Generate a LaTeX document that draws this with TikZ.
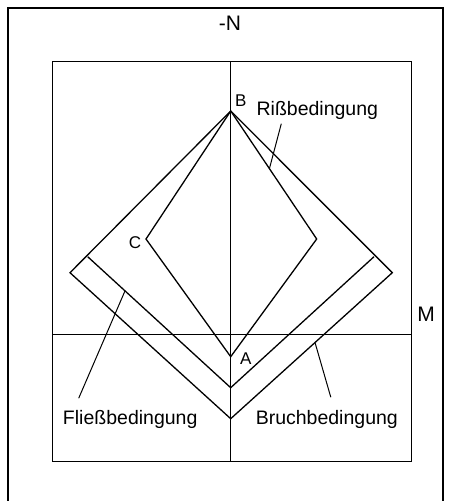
\documentclass[tikz,border=0pt]{standalone}
\usepackage{fontspec}
\setmainfont{Liberation Sans}

\begin{document}
\begin{tikzpicture}[x=1pt,y=-1pt,line width=1.3pt,line join=miter,
		lbl/.style={font=\fontsize{19.5}{19.5}\selectfont,anchor=base,inner sep=0pt},
		ax/.style={font=\fontsize{21}{21}\selectfont,anchor=base,inner sep=0pt},
		pnt/.style={font=\fontsize{17}{17}\selectfont,anchor=base,inner sep=0pt}]
		\useasboundingbox (0,0) rectangle (448,501);
		\draw (8,501) |- (443,8) -- (443,501);
		% axes
		\draw (52.3,61.3) rectangle (411.3,461.7);
		\draw (230.7,61.3) -- (230.7,461.7);
		\draw (52.3,334.3) -- (411.3,334.3);
		% corners
		\coordinate (B) at (230.7,111);
		\coordinate (A) at (230.7,356.7);
		\coordinate (C) at (146,239);
		\coordinate (Cr) at (316.7,239);
		\coordinate (Fl) at (87.7,256.7);
		\coordinate (Fb) at (230.7,387.7);
		\coordinate (Fr) at (374,256.7);
		\coordinate (Bl) at (70,272.7);
		\coordinate (Bb) at (230.7,418.7);
		\coordinate (Br) at (392.3,272.7);
		% curves
		\draw (B) -- (Bl) -- (Bb) -- (Br) -- cycle;
		\draw (Fl) -- (Fb) -- (Fr);
		\draw (B) -- (C) -- (A) -- (Cr) -- cycle;
		% labels
		\node[ax] (nn) at (230,30.7) {-N};
		\node[ax] (mm) at (426,321.7) {M};
		\node[pnt] (lb) at (240.7,106.7) {B};
		\node[pnt] (lc) at (135,248.3) {C};
		\node[pnt] (la) at (245.7,364) {A};
		\node[lbl] (riss) at (317.3,115) {Rißbedingung};
		\node[lbl] (fliess) at (130.2,424) {Fließbedingung};
		\node[lbl] (bruch) at (326.8,424) {Bruchbedingung};
		\coordinate (rissend) at (269.5,168.3);
		\coordinate (fliessend) at (125,290.9);
		\coordinate (bruchend) at (315,342.5);
		\draw[line width=1pt] ([xshift=-36pt,yshift=-4pt]riss.south) -- (rissend);
		\draw[line width=1pt] ([xshift=-51.5pt,yshift=11pt]fliess.north) -- (fliessend);
		\draw[line width=1pt] ([xshift=4pt,yshift=12pt]bruch.north) -- (bruchend);
\end{tikzpicture}
\end{document}
